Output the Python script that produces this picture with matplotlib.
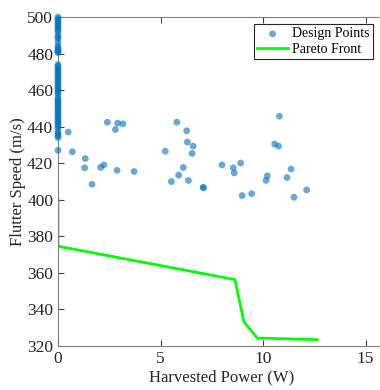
import matplotlib.pyplot as plt
import numpy as np

plt.rcParams['font.family'] = ['Liberation Serif', 'DejaVu Serif']

# design points: power (W), flutter speed (m/s)
zero_speed = [500, 499, 498, 497, 496, 495, 494, 493, 492, 490, 489, 488, 486,
              484, 483, 482, 481.5, 481, 480.5, 474, 473, 472, 471, 470, 469,
              468, 467, 466, 465, 464, 463, 462, 461, 460, 459, 458, 456, 455,
              454, 453, 452, 451, 450, 449, 448, 447, 446, 445, 444, 443, 442,
              441, 440, 439, 437, 436, 435, 434, 427]
scatter_power = [0.50, 0.70, 1.33, 1.30, 1.66, 2.08, 2.24, 2.41, 2.80, 2.91,
                 3.17, 2.88, 3.71, 5.23, 5.80, 5.53, 5.89, 6.11, 6.36, 6.28,
                 6.31, 6.59, 6.54, 7.08, 7.10, 8.00, 8.55, 8.60, 8.91, 8.98,
                 9.45, 10.21, 10.15, 10.57, 10.76, 10.80, 11.17, 11.37, 11.51,
                 12.13]
scatter_speed = [437, 426.2, 422.5, 417.4, 408.4, 417.6, 419, 442.4, 438.4,
                 441.9, 441.5, 416, 415.4, 426.5, 442.4, 409.9, 413.4, 417.6,
                 410.5, 437.7, 431.5, 429.3, 425.3, 406.8, 406.4, 419.0, 417.4,
                 414.6, 420, 402.2, 403.3, 413, 410.5, 430.4, 429.3, 445.7,
                 412.1, 416.7, 401.3, 405.3]

# pareto front
pareto_power = [0, 0, 8.63, 9.07, 9.72, 12.65]
pareto_speed = [400, 374.5, 356.2, 333.1, 324.2, 323.3]

power = np.concatenate([np.zeros(len(zero_speed)), scatter_power])
speed = np.concatenate([zero_speed, scatter_speed])

fig = plt.figure(figsize=(3.8, 3.9), dpi=100)
ax = fig.add_axes([58 / 380, 1 - 345.7 / 390, 328 / 380, 328.7 / 390])

ax.scatter(power, speed, s=24, color='#0072BD', alpha=0.6, edgecolors='none',
           label='Design Points', zorder=3, clip_on=False)
ax.plot(pareto_power, pareto_speed, color='#00FF00', lw=2, label='Pareto Front',
        zorder=2)

ax.set_xlim(0, 16)
ax.set_ylim(320, 500)
ax.set_xticks([0, 5, 10, 15])
ax.set_yticks(np.arange(320, 501, 20))
ax.tick_params(direction='in', top=True, right=True, length=4, width=0.8,
               colors='#404040', labelcolor='#262626', labelsize=12.5)
for s in ax.spines.values():
    s.set_color('#808080')
    s.set_linewidth(0.8)

ax.set_xlabel('Harvested Power (W)', fontsize=12, color='#262626', labelpad=2)
ax.set_ylabel('Flutter Speed (m/s)', fontsize=12, color='#262626', labelpad=1)

leg = ax.legend(loc='upper right', bbox_to_anchor=(373 / 380, 1 - 24 / 390),
                bbox_transform=fig.transFigure, fontsize=10, fancybox=False,
                framealpha=1, borderpad=0.25, handlelength=2.2, handletextpad=0.3,
                labelspacing=0.15, borderaxespad=0)
leg.get_frame().set_edgecolor('#262626')
leg.get_frame().set_linewidth(0.8)

fig.savefig('out.png', dpi=100)
